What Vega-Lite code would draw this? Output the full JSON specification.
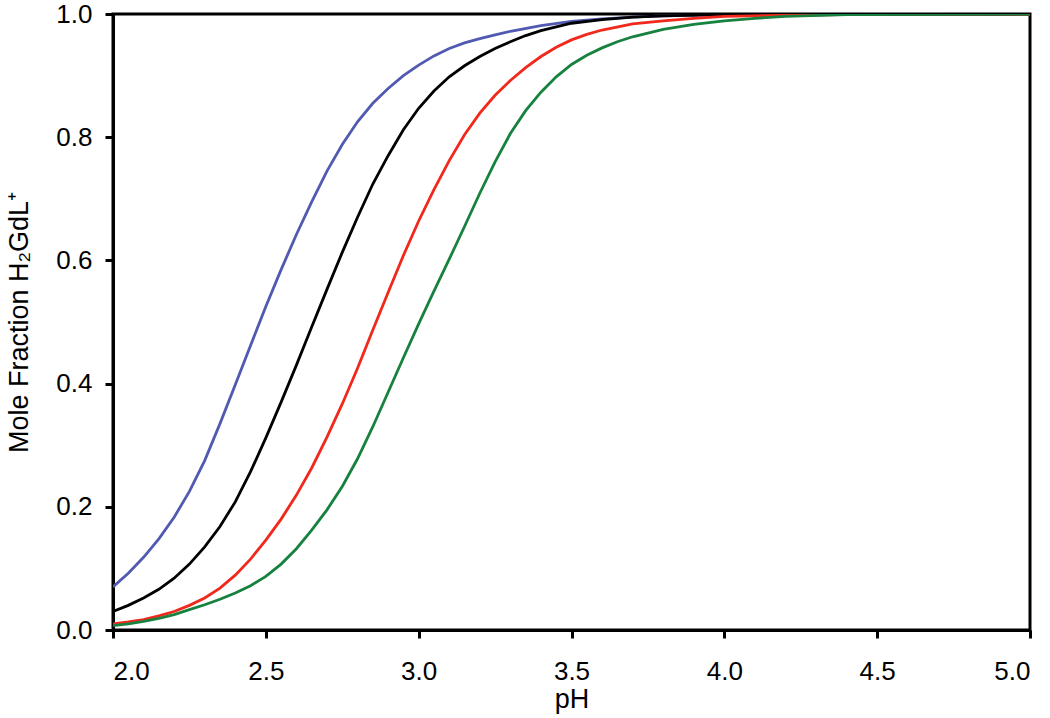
{
  "$schema": "https://vega.github.io/schema/vega-lite/v6.json",
  "width": 917,
  "height": 616,
  "autosize": "none",
  "padding": {"left": 113, "top": 14, "right": 20, "bottom": 88},
  "background": "white",
  "config": {
    "view": {"stroke": "black", "strokeWidth": 3},
    "font": "Liberation Sans",
    "axis": {
      "domainColor": "black", "domainWidth": 3,
      "tickColor": "black", "tickWidth": 3, "tickSize": 8,
      "labelFont": "Liberation Sans", "labelFontSize": 26, "labelColor": "black",
      "titleFont": "Liberation Sans", "titleFontSize": 27, "titleFontWeight": "normal", "titleColor": "black",
      "grid": false
    }
  },
  "data": {"values": [
    {"pH":2.00,"f":0.070,"s":"blue"},{"pH":2.05,"f":0.092,"s":"blue"},{"pH":2.10,"f":0.118,"s":"blue"},{"pH":2.15,"f":0.148,"s":"blue"},{"pH":2.20,"f":0.183,"s":"blue"},{"pH":2.25,"f":0.225,"s":"blue"},{"pH":2.30,"f":0.275,"s":"blue"},{"pH":2.35,"f":0.335,"s":"blue"},{"pH":2.40,"f":0.398,"s":"blue"},{"pH":2.45,"f":0.462,"s":"blue"},{"pH":2.50,"f":0.525,"s":"blue"},{"pH":2.55,"f":0.585,"s":"blue"},{"pH":2.60,"f":0.642,"s":"blue"},{"pH":2.65,"f":0.695,"s":"blue"},{"pH":2.70,"f":0.745,"s":"blue"},{"pH":2.75,"f":0.788,"s":"blue"},{"pH":2.80,"f":0.825,"s":"blue"},{"pH":2.85,"f":0.855,"s":"blue"},{"pH":2.90,"f":0.879,"s":"blue"},{"pH":2.95,"f":0.900,"s":"blue"},{"pH":3.00,"f":0.917,"s":"blue"},{"pH":3.05,"f":0.932,"s":"blue"},{"pH":3.10,"f":0.944,"s":"blue"},{"pH":3.15,"f":0.953,"s":"blue"},{"pH":3.20,"f":0.960,"s":"blue"},{"pH":3.25,"f":0.966,"s":"blue"},{"pH":3.30,"f":0.972,"s":"blue"},{"pH":3.40,"f":0.981,"s":"blue"},{"pH":3.50,"f":0.988,"s":"blue"},{"pH":3.60,"f":0.992,"s":"blue"},{"pH":3.70,"f":0.995,"s":"blue"},{"pH":3.80,"f":0.997,"s":"blue"},{"pH":4.00,"f":0.999,"s":"blue"},{"pH":4.50,"f":0.999,"s":"blue"},{"pH":4.95,"f":0.999,"s":"blue"},
    {"pH":2.00,"f":0.030,"s":"black"},{"pH":2.05,"f":0.040,"s":"black"},{"pH":2.10,"f":0.052,"s":"black"},{"pH":2.15,"f":0.066,"s":"black"},{"pH":2.20,"f":0.084,"s":"black"},{"pH":2.25,"f":0.107,"s":"black"},{"pH":2.30,"f":0.135,"s":"black"},{"pH":2.35,"f":0.168,"s":"black"},{"pH":2.40,"f":0.208,"s":"black"},{"pH":2.45,"f":0.257,"s":"black"},{"pH":2.50,"f":0.312,"s":"black"},{"pH":2.55,"f":0.370,"s":"black"},{"pH":2.60,"f":0.430,"s":"black"},{"pH":2.65,"f":0.492,"s":"black"},{"pH":2.70,"f":0.553,"s":"black"},{"pH":2.75,"f":0.613,"s":"black"},{"pH":2.80,"f":0.670,"s":"black"},{"pH":2.85,"f":0.724,"s":"black"},{"pH":2.90,"f":0.770,"s":"black"},{"pH":2.95,"f":0.812,"s":"black"},{"pH":3.00,"f":0.847,"s":"black"},{"pH":3.05,"f":0.875,"s":"black"},{"pH":3.10,"f":0.898,"s":"black"},{"pH":3.15,"f":0.916,"s":"black"},{"pH":3.20,"f":0.931,"s":"black"},{"pH":3.25,"f":0.944,"s":"black"},{"pH":3.30,"f":0.955,"s":"black"},{"pH":3.35,"f":0.965,"s":"black"},{"pH":3.40,"f":0.973,"s":"black"},{"pH":3.50,"f":0.985,"s":"black"},{"pH":3.60,"f":0.991,"s":"black"},{"pH":3.70,"f":0.995,"s":"black"},{"pH":3.80,"f":0.997,"s":"black"},{"pH":4.00,"f":0.999,"s":"black"},{"pH":4.50,"f":1.000,"s":"black"},{"pH":5.00,"f":1.000,"s":"black"},
    {"pH":2.00,"f":0.010,"s":"red"},{"pH":2.05,"f":0.013,"s":"red"},{"pH":2.10,"f":0.017,"s":"red"},{"pH":2.15,"f":0.023,"s":"red"},{"pH":2.20,"f":0.030,"s":"red"},{"pH":2.25,"f":0.040,"s":"red"},{"pH":2.30,"f":0.052,"s":"red"},{"pH":2.35,"f":0.068,"s":"red"},{"pH":2.40,"f":0.089,"s":"red"},{"pH":2.45,"f":0.115,"s":"red"},{"pH":2.50,"f":0.146,"s":"red"},{"pH":2.55,"f":0.180,"s":"red"},{"pH":2.60,"f":0.219,"s":"red"},{"pH":2.65,"f":0.263,"s":"red"},{"pH":2.70,"f":0.313,"s":"red"},{"pH":2.75,"f":0.367,"s":"red"},{"pH":2.80,"f":0.425,"s":"red"},{"pH":2.85,"f":0.487,"s":"red"},{"pH":2.90,"f":0.548,"s":"red"},{"pH":2.95,"f":0.608,"s":"red"},{"pH":3.00,"f":0.664,"s":"red"},{"pH":3.05,"f":0.715,"s":"red"},{"pH":3.10,"f":0.762,"s":"red"},{"pH":3.15,"f":0.804,"s":"red"},{"pH":3.20,"f":0.839,"s":"red"},{"pH":3.25,"f":0.868,"s":"red"},{"pH":3.30,"f":0.892,"s":"red"},{"pH":3.35,"f":0.913,"s":"red"},{"pH":3.40,"f":0.931,"s":"red"},{"pH":3.45,"f":0.946,"s":"red"},{"pH":3.50,"f":0.958,"s":"red"},{"pH":3.55,"f":0.967,"s":"red"},{"pH":3.60,"f":0.974,"s":"red"},{"pH":3.70,"f":0.984,"s":"red"},{"pH":3.80,"f":0.989,"s":"red"},{"pH":3.90,"f":0.993,"s":"red"},{"pH":4.00,"f":0.996,"s":"red"},{"pH":4.20,"f":0.998,"s":"red"},{"pH":4.50,"f":1.000,"s":"red"},{"pH":5.00,"f":1.000,"s":"red"},
    {"pH":2.00,"f":0.007,"s":"green"},{"pH":2.05,"f":0.010,"s":"green"},{"pH":2.10,"f":0.014,"s":"green"},{"pH":2.15,"f":0.019,"s":"green"},{"pH":2.20,"f":0.025,"s":"green"},{"pH":2.25,"f":0.033,"s":"green"},{"pH":2.30,"f":0.041,"s":"green"},{"pH":2.35,"f":0.050,"s":"green"},{"pH":2.40,"f":0.060,"s":"green"},{"pH":2.45,"f":0.072,"s":"green"},{"pH":2.50,"f":0.087,"s":"green"},{"pH":2.55,"f":0.107,"s":"green"},{"pH":2.60,"f":0.132,"s":"green"},{"pH":2.65,"f":0.162,"s":"green"},{"pH":2.70,"f":0.195,"s":"green"},{"pH":2.75,"f":0.233,"s":"green"},{"pH":2.80,"f":0.278,"s":"green"},{"pH":2.85,"f":0.330,"s":"green"},{"pH":2.90,"f":0.386,"s":"green"},{"pH":2.95,"f":0.442,"s":"green"},{"pH":3.00,"f":0.497,"s":"green"},{"pH":3.05,"f":0.550,"s":"green"},{"pH":3.10,"f":0.602,"s":"green"},{"pH":3.15,"f":0.655,"s":"green"},{"pH":3.20,"f":0.709,"s":"green"},{"pH":3.25,"f":0.760,"s":"green"},{"pH":3.30,"f":0.806,"s":"green"},{"pH":3.35,"f":0.843,"s":"green"},{"pH":3.40,"f":0.873,"s":"green"},{"pH":3.45,"f":0.898,"s":"green"},{"pH":3.50,"f":0.918,"s":"green"},{"pH":3.55,"f":0.933,"s":"green"},{"pH":3.60,"f":0.945,"s":"green"},{"pH":3.65,"f":0.955,"s":"green"},{"pH":3.70,"f":0.963,"s":"green"},{"pH":3.80,"f":0.975,"s":"green"},{"pH":3.90,"f":0.983,"s":"green"},{"pH":4.00,"f":0.989,"s":"green"},{"pH":4.10,"f":0.993,"s":"green"},{"pH":4.20,"f":0.996,"s":"green"},{"pH":4.40,"f":0.999,"s":"green"},{"pH":5.00,"f":1.000,"s":"green"}
  ]},
  "mark": {"type": "line", "strokeWidth": 2.8, "clip": true},
  "encoding": {
    "x": {"field": "pH", "type": "quantitative",
      "scale": {"domain": [2, 5], "nice": false, "zero": false},
      "axis": {"title": "pH", "values": [2, 2.5, 3, 3.5, 4, 4.5, 5], "format": ".1f", "labelPadding": 20, "titlePadding": 2}},
    "y": {"field": "f", "type": "quantitative",
      "scale": {"domain": [0, 1], "nice": false},
      "axis": {"title": "Mole Fraction H₂GdL⁺", "values": [0, 0.2, 0.4, 0.6, 0.8, 1.0], "format": ".1f", "labelPadding": 13, "titlePadding": 22}},
    "color": {"field": "s", "type": "nominal",
      "scale": {"domain": ["green", "red", "black", "blue"], "range": ["#17813f", "#f1281c", "#000000", "#5159b1"]},
      "legend": null},
    "order": {"field": "pH", "type": "quantitative"}
  }
}
